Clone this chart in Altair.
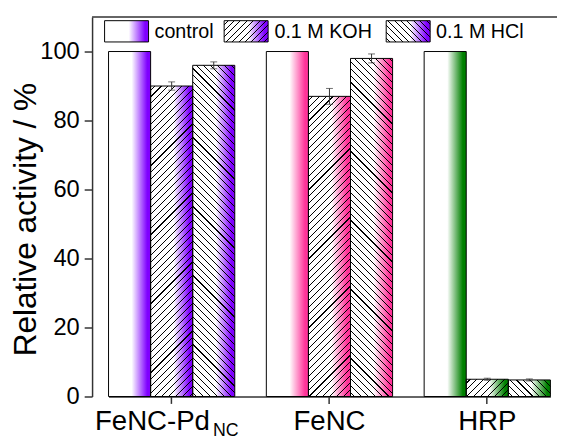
import altair as alt
import pandas as pd

# ---------------- data ----------------
categories = ["FeNC-Pd_NC", "FeNC", "HRP"]
category_labels = ["FeNC-Pd", "FeNC", "HRP"]
category_subscripts = ["NC", "", ""]
series = ["control", "0.1 M KOH", "0.1 M HCl"]
control_values = [100.0, 100.0, 100.0]
koh_values = [90.0, 87.0, 5.0]
hcl_values = [96.0, 98.0, 4.8]
control_errors = [0.0, 0.0, 0.0]
koh_errors = [1.2, 2.3, 0.3]
hcl_errors = [1.0, 1.3, 0.3]
group_colors = ["#7F00FF", "#FF3399", "#008000"]
hatch_dirs = ["", "/", "\\"]
y_ticks = [0, 20, 40, 60, 80, 100]
y_title = "Relative activity / %"

# ---------------- layout ----------------
W, H = 470, 385
Y_MAX = 110
X_RANGE = [16.7, 465.0]
PAD_INNER = 0.2
FONT = "Liberation Sans"

rows = []
for i, c in enumerate(categories):
    for s, vals, errs in zip(series, [control_values, koh_values, hcl_values],
                             [control_errors, koh_errors, hcl_errors]):
        rows.append(dict(category=c, series=s, value=vals[i], err=errs[i],
                         lo=vals[i] - errs[i], hi=vals[i] + errs[i]))
df = pd.DataFrame(rows)
labels_df = pd.DataFrame({"category": categories, "label": category_labels,
                          "sub": category_subscripts})
one = pd.DataFrame({"k": [0]})

step = (X_RANGE[1] - X_RANGE[0]) / (len(categories) - PAD_INNER)
bar_w = step * (1 - PAD_INNER) / len(series)
px_per_unit = H / Y_MAX


def color_grad(color):
    return alt.LinearGradient(
        gradient="linear", x1=0, y1=0, x2=1, y2=0,
        stops=[{"offset": 0, "color": "white"},
               {"offset": 0.55, "color": "white"},
               {"offset": 0.92, "color": color},
               {"offset": 1, "color": color}])


def hatch_grad(w, h, direction, period=7.0, lw=1.1):
    L = w + h
    k = L / (w * w + h * h)
    if direction == "/":
        x1, y1, x2, y2 = 0, 0, w * k, h * k
    else:
        x1, y1, x2, y2 = 0, 1, w * k, 1 - h * k
    clear = "rgba(0,0,0,0)"
    stops = [{"offset": 0, "color": clear}]
    s = period / 2
    while s + lw < L:
        a, b = s / L, (s + lw) / L
        stops += [{"offset": a, "color": clear}, {"offset": a, "color": "black"},
                  {"offset": b, "color": "black"}, {"offset": b, "color": clear}]
        s += period
    stops.append({"offset": 1, "color": clear})
    return alt.LinearGradient(gradient="linear", x1=x1, y1=y1, x2=x2, y2=y2, stops=stops)


x_enc = alt.X("category:N",
              scale=alt.Scale(domain=categories, range=X_RANGE,
                              paddingInner=PAD_INNER, paddingOuter=0),
              axis=alt.Axis(labels=False, title=None, tickSize=7, tickWidth=1.5,
                            tickColor="#333", domainColor="#333", domainWidth=1.5))
xo_enc = alt.XOffset("series:N", scale=alt.Scale(domain=series, paddingInner=0, paddingOuter=0))


def y_enc(field):
    return alt.Y(field, type="quantitative", stack=None,
                 scale=alt.Scale(domain=[0, Y_MAX], nice=False, zero=True),
                 axis=alt.Axis(values=y_ticks, title=y_title, grid=False,
                               labelFontSize=24, labelPadding=5, labelColor="black",
                               tickSize=8, tickWidth=1.5, tickColor="#333",
                               domainColor="#333", domainWidth=1.5,
                               titleFontSize=32, titleFontWeight="normal",
                               titleColor="black", titleAngle=270, titleX=-57,
                               titleY=205, titleBaseline="alphabetic",
                               titleAlign="center"))


base = alt.Chart(df)
layers = []

# coloured gradient bodies
for i, c in enumerate(categories):
    layers.append(base.transform_filter(alt.datum.category == c)
                  .mark_bar(fill=color_grad(group_colors[i]))
                  .encode(x=x_enc, xOffset=xo_enc, y=y_enc("value")))

# hatching
for i, c in enumerate(categories):
    for j, s in enumerate(series):
        if not hatch_dirs[j]:
            continue
        v = df[(df.category == c) & (df.series == s)]["value"].iloc[0]
        layers.append(base.transform_filter((alt.datum.category == c) & (alt.datum.series == s))
                      .mark_bar(fill=hatch_grad(bar_w, v * px_per_unit, hatch_dirs[j]))
                      .encode(x=x_enc, xOffset=xo_enc, y=y_enc("value")))

# outlines
layers.append(base.mark_bar(fillOpacity=0, stroke="black", strokeWidth=1)
              .encode(x=x_enc, xOffset=xo_enc, y=y_enc("value")))

# error bars
err_base = base.transform_filter(alt.datum.err > 0)
layers.append(err_base.mark_rule(color="#333", strokeWidth=1)
              .encode(x=x_enc, xOffset=xo_enc, y=y_enc("lo"), y2="hi:Q"))
layers.append(err_base.mark_tick(color="#333", thickness=1, size=7, orient="horizontal")
              .encode(x=x_enc, xOffset=xo_enc, y=y_enc("lo")))
layers.append(err_base.mark_tick(color="#333", thickness=1, size=7, orient="horizontal")
              .encode(x=x_enc, xOffset=xo_enc, y=y_enc("hi")))

# top frame line
layers.append(alt.Chart(one).mark_rule(color="#333", strokeWidth=1.5)
              .encode(x=alt.value(0), x2=alt.value(W + 10), y=alt.value(0)))

# x category labels (with subscript)
lab = alt.Chart(labels_df)
layers.append(lab.transform_filter(alt.datum.sub == "")
              .mark_text(fontSize=28, align="center", baseline="alphabetic", color="black")
              .encode(x=x_enc, y=alt.value(H + 34.3), text="label:N"))
layers.append(lab.transform_filter(alt.datum.sub != "")
              .mark_text(fontSize=28, align="center", baseline="alphabetic", color="black", dx=-19.5)
              .encode(x=x_enc, y=alt.value(H + 34.3), text="label:N"))
layers.append(lab.transform_filter(alt.datum.sub != "")
              .mark_text(fontSize=18, align="left", baseline="alphabetic", color="black", dx=42)
              .encode(x=x_enc, y=alt.value(H + 40.3), text="sub:N"))

# legend
leg_x = [12.7, 134.0, 298.4]
leg_w = 44.6
leg_y0, leg_y1 = 3.7, 25.3
leg_text_x = [63.4, 185.0, 349.0]
for j, s in enumerate(series):
    x0 = leg_x[j]
    pos = dict(x=alt.value(x0), x2=alt.value(x0 + leg_w), y=alt.value(leg_y0), y2=alt.value(leg_y1))
    layers.append(alt.Chart(one).mark_rect(fill=color_grad(group_colors[0])).encode(**pos))
    if hatch_dirs[j]:
        layers.append(alt.Chart(one).mark_rect(
            fill=hatch_grad(leg_w, leg_y1 - leg_y0, hatch_dirs[j], period=6.5)).encode(**pos))
    layers.append(alt.Chart(one).mark_rect(fillOpacity=0, stroke="black", strokeWidth=1).encode(**pos))
    layers.append(alt.Chart(one).mark_text(text=s, fontSize=20, align="left",
                                            baseline="alphabetic", color="black")
                  .encode(x=alt.value(leg_text_x[j]), y=alt.value(21.0)))

chart = (alt.layer(*layers)
         .properties(width=W, height=H,
                     autosize=alt.AutoSizeParams(type="none"),
                     padding={"left": 85.3, "top": 6, "right": 1.7, "bottom": 43})
         .configure(font=FONT, background="white")
         .configure_view(stroke="transparent"))

chart.save("out.html", embed_options={"renderer": "svg", "actions": False})
